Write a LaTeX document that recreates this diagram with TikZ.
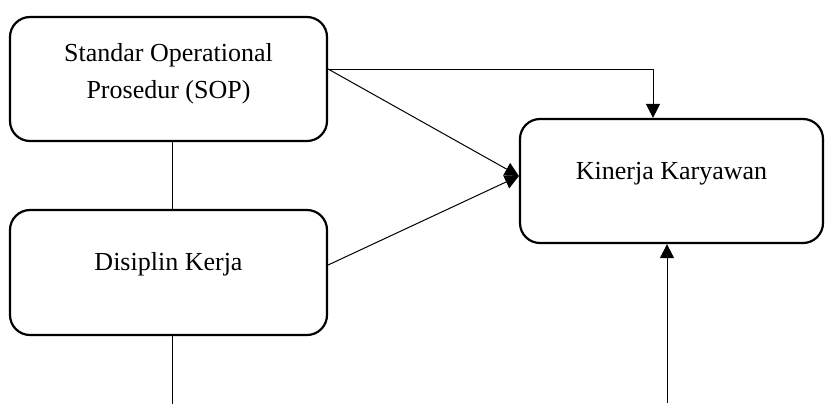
\documentclass[tikz,border=0pt]{standalone}
\usepackage{fontspec}
\setmainfont{Liberation Serif}
\usetikzlibrary{arrows.meta}
\begin{document}
\begin{tikzpicture}[x=0.5pt,y=-0.5pt,line join=round,line width=0.5pt,>={Triangle[length=7pt,width=7pt]},
  kotak/.style={draw,line width=1.1pt,rounded corners=10pt,align=center,font=\fontsize{13}{18.5}\selectfont},
  satu/.style={text height=9pt,text depth=11pt}]
\useasboundingbox (0,0) rectangle (825,403);
\node[kotak,minimum width=158.5pt,minimum height=62pt,text height=27.5pt,text depth=8pt] (sop) at (168.5,79) {Standar Operational\\Prosedur (SOP)};
\node[kotak,satu,minimum width=158.5pt,minimum height=62.5pt] (dis) at (168.5,272.5) {Disiplin Kerja};
\node[kotak,satu,minimum width=151.5pt,minimum height=62pt] (kin) at (671.5,181) {Kinerja Karyawan};
\coordinate (s1) at ([yshift=5pt]sop.east);
\coordinate (k1) at ([yshift=2.5pt]kin.west);
\coordinate (k2) at ([xshift=-9.25pt]kin.north);
\coordinate (k3) at ([xshift=-2.25pt]kin.south);
\draw[->](s1) -| (k2);
\draw[->](s1) -- (k1);
\draw[->]([yshift=3.75pt]dis.east) -- (k1);
\draw([xshift=1.75pt]sop.south) -- ([xshift=1.75pt]dis.north);
\draw([xshift=1.75pt]dis.south) -- ++(0,68);
\draw[->](k3 |- 0,403) -- (k3);
\end{tikzpicture}
\end{document}
